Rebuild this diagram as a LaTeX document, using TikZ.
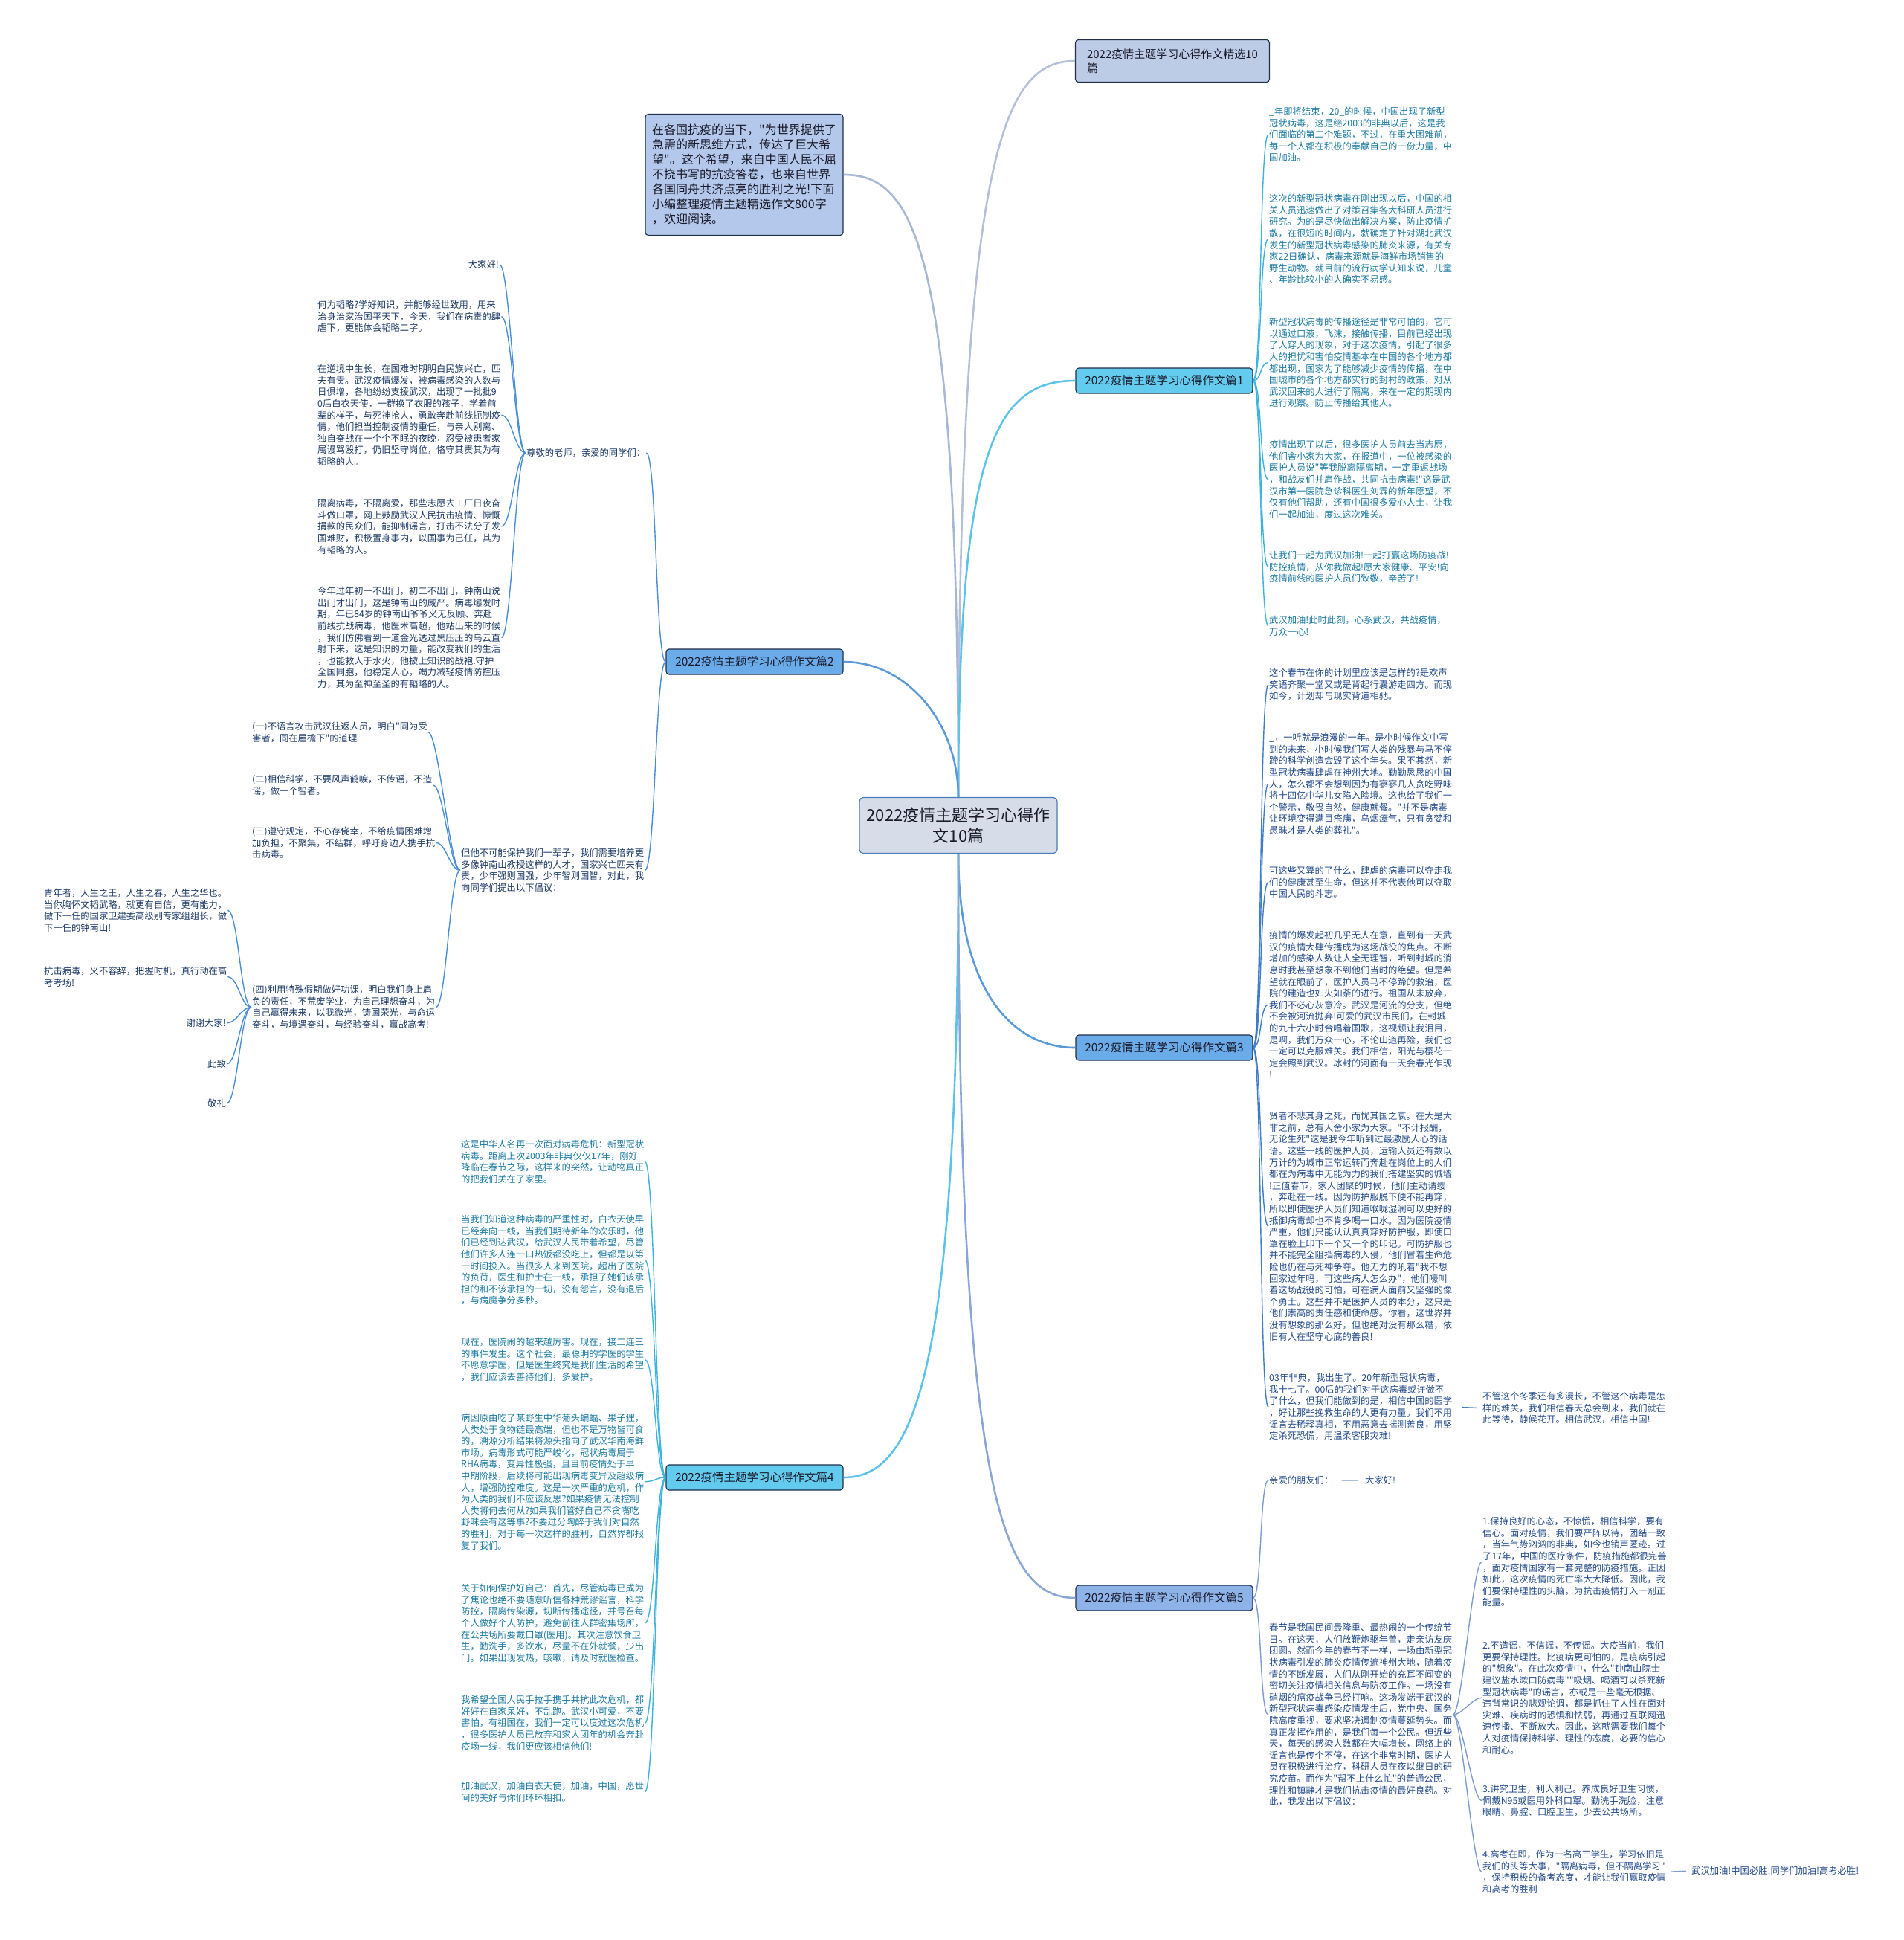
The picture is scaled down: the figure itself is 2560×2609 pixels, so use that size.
\documentclass[tikz,border=0pt]{standalone}
\usepackage{fontspec}
\setmainfont{Noto Sans CJK SC}[Ligatures=TeXOff]
\usetikzlibrary{positioning}
\definecolor{rootfill}{HTML}{D6DDE8}
\definecolor{rootline}{HTML}{4A7DC0}
\definecolor{topicline}{HTML}{1F2F4A}
\definecolor{titlefill}{HTML}{BCCBE6}
\definecolor{introfill}{HTML}{B3C8EA}
\definecolor{cyanfill}{HTML}{62CBEE}
\definecolor{bluefill}{HTML}{6AACEA}
\definecolor{lightfill}{HTML}{8DB3E8}
\definecolor{inkdark}{HTML}{1A1A2A}
\definecolor{trunkgrey}{HTML}{B4C0D8}
\definecolor{trunkintro}{HTML}{A7B7D6}
\definecolor{trunkcyan}{HTML}{5CC4E8}
\definecolor{trunkblue}{HTML}{5A9AD8}
\definecolor{trunklight}{HTML}{8AA6D6}
\definecolor{cyanline}{HTML}{3DB3DE}
\definecolor{navyline}{HTML}{4A8ED6}
\definecolor{blueline}{HTML}{3F7DC8}
\definecolor{lightline}{HTML}{7E9BD0}
\definecolor{cyantext}{HTML}{1B7AA3}
\definecolor{navytext}{HTML}{1C3A66}
\definecolor{bluetext}{HTML}{224B8A}

\begin{document}
\begin{tikzpicture}[x=1pt, y=-1pt,
  root/.style={draw=rootline, fill=rootfill, line width=1.2pt, rounded corners=5pt, minimum width=266pt, minimum height=75pt, align=center, font=\fontsize{22}{28}\selectfont, text=inkdark},
  topic/.style={draw=topicline, line width=1.1pt, rounded corners=4pt, minimum width=238pt, minimum height=34pt, font=\fontsize{15.5}{19}\selectfont, text=inkdark},
  cyantopic/.style={topic, fill=cyanfill},
  bluetopic/.style={topic, fill=bluefill},
  leaf/.style={align=left, inner sep=1pt, font=\fontsize{12.3}{15.6}\selectfont},
  rightleaf/.style={leaf, anchor=north west},
  leftleaf/.style={leaf, anchor=north west},
  trunk/.style={line width=2.6pt},
  twig/.style={line width=1.4pt}
]
  \fill[white] (0,0) rectangle (2560,2609);
  \useasboundingbox (0,0) rectangle (2560,2609);

  % centre and main topics
  \node[root] (root) at (1289,1110) {2022疫情主题学习心得作\\文10篇};
  \node[topic, fill=titlefill, minimum width=261pt, minimum height=57pt, align=left, font=\fontsize{15}{19}\selectfont] (head) at (1577,82) {2022疫情主题学习心得作文精选10\\篇};
  \node[topic, fill=introfill, minimum width=266pt, minimum height=163pt, align=left, font=\fontsize{16}{20}\selectfont] (intro) at (1001,235) {在各国抗疫的当下，"为世界提供了\\
急需的新思维方式，传达了巨大希\\
望"。这个希望，来自中国人民不屈\\
不挠书写的抗疫答卷，也来自世界\\
各国同舟共济点亮的胜利之光!下面\\
小编整理疫情主题精选作文800字\\
，欢迎阅读。};
  \node[cyantopic] (p1) at (1566,512) {2022疫情主题学习心得作文篇1};
  \node[bluetopic] (p2) at (1015,890) {2022疫情主题学习心得作文篇2};
  \node[bluetopic] (p3) at (1566,1409) {2022疫情主题学习心得作文篇3};
  \node[cyantopic] (p4) at (1015,1987) {2022疫情主题学习心得作文篇4};
  \node[topic, fill=lightfill] (p5) at (1566,2149) {2022疫情主题学习心得作文篇5};

  \draw[trunk, trunkgrey] (root.north) .. controls (1289,200) and (1350,82) .. (head.west);
  \draw[trunk, trunkintro] (root.north) .. controls (1289,330) and (1230,235) .. (intro.east);
  \draw[trunk, trunkcyan] (root.north) .. controls (1289,600) and (1340,512) .. (p1.west);
  \draw[trunk, trunkblue] (root.north) .. controls (1289,972) and (1220,890) .. (p2.east);
  \draw[trunk, trunkblue] (root.south) .. controls (1289,1330) and (1360,1409) .. (p3.west);
  \draw[trunk, trunkcyan] (root.south) .. controls (1289,1850) and (1230,1987) .. (p4.east);
  \draw[trunk, trunklight] (root.south) .. controls (1289,2020) and (1350,2149) .. (p5.west);

  % topic 1
  \node[rightleaf, text=cyantext] (b1a) at (1706,143) {\_年即将结束，20\_的时候，中国出现了新型\\
冠状病毒，这是继2003的非典以后，这是我\\
们面临的第二个难题，不过，在重大困难前，\\
每一个人都在积极的奉献自己的一份力量，中\\
国加油。};
  \node[rightleaf, text=cyantext] (b1b) at (1706,260) {这次的新型冠状病毒在刚出现以后，中国的相\\
关人员迅速做出了对策召集各大科研人员进行\\
研究。为的是尽快做出解决方案，防止疫情扩\\
散，在很短的时间内，就确定了针对湖北武汉\\
发生的新型冠状病毒感染的肺炎来源，有关专\\
家22日确认，病毒来源就是海鲜市场销售的\\
野生动物。就目前的流行病学认知来说，儿童\\
、年龄比较小的人确实不易感。};
  \node[rightleaf, text=cyantext] (b1c) at (1706,426) {新型冠状病毒的传播途径是非常可怕的，它可\\
以通过口液，飞沫，接触传播，目前已经出现\\
了人穿人的现象，对于这次疫情，引起了很多\\
人的担忧和害怕疫情基本在中国的各个地方都\\
都出现，国家为了能够减少疫情的传播，在中\\
国城市的各个地方都实行的封村的政策，对从\\
武汉回来的人进行了隔离，来在一定的期现内\\
进行观察。防止传播给其他人。};
  \node[rightleaf, text=cyantext] (b1d) at (1706,591) {疫情出现了以后，很多医护人员前去当志愿，\\
他们舍小家为大家，在报道中，一位被感染的\\
医护人员说"等我脱离隔离期，一定重返战场\\
，和战友们并肩作战，共同抗击病毒!"这是武\\
汉市第一医院急诊科医生刘霖的新年愿望，不\\
仅有他们帮助，还有中国很多爱心人士，让我\\
们一起加油，度过这次难关。};
  \node[rightleaf, text=cyantext] (b1e) at (1706,740) {让我们一起为武汉加油!一起打赢这场防疫战!\\
防控疫情，从你我做起!愿大家健康、平安!向\\
疫情前线的医护人员们致敬，辛苦了!};
  \node[rightleaf, text=cyantext] (b1f) at (1706,827) {武汉加油!此时此刻，心系武汉，共战疫情，\\
万众一心!};
  \foreach \n in {b1a,b1b,b1c,b1d,b1e,b1f}
    \draw[twig, cyanline] (p1.east) .. controls +(12,0) and +(-12,0) .. (\n.west);

  % topic 2
  \node[leaf, anchor=west, text=navytext] (g0) at (707,609) {尊敬的老师，亲爱的同学们：};
  \node[leaf, anchor=north east, text=navytext] (g1) at (672,349) {大家好!};
  \node[leftleaf, text=navytext] (g2) at (426,403) {何为韬略?学好知识，并能够经世致用，用来\\
治身治家治国平天下，今天，我们在病毒的肆\\
虐下，更能体会韬略二字。};
  \node[leftleaf, text=navytext] (g3) at (426,489) {在逆境中生长，在国难时期明白民族兴亡，匹\\
夫有责。武汉疫情爆发，被病毒感染的人数与\\
日俱增，各地纷纷支援武汉，出现了一批批9\\
0后白衣天使，一群换了衣服的孩子，学着前\\
辈的样子，与死神抢人，勇敢奔赴前线扼制疫\\
情，他们担当控制疫情的重任，与亲人别离、\\
独自奋战在一个个不眠的夜晚，忍受被患者家\\
属谩骂殴打，仍旧坚守岗位，恪守其责其为有\\
韬略的人。};
  \node[leftleaf, text=navytext] (g4) at (426,670) {隔离病毒，不隔离爱，那些志愿去工厂日夜奋\\
斗做口罩，网上鼓励武汉人民抗击疫情、慷慨\\
捐款的民众们，能抑制谣言，打击不法分子发\\
国难财，积极置身事内，以国事为己任，其为\\
有韬略的人。};
  \node[leftleaf, text=navytext] (g5) at (426,788) {今年过年初一不出门，初二不出门，钟南山说\\
出门才出门，这是钟南山的威严。病毒爆发时\\
期，年已84岁的钟南山爷爷义无反顾、奔赴\\
前线抗战病毒，他医术高超，他站出来的时候\\
，我们仿佛看到一道金光透过黑压压的乌云直\\
射下来，这是知识的力量，能改变我们的生活\\
，也能救人于水火，他披上知识的战袍.守护\\
全国同胞，他稳定人心，竭力减轻疫情防控压\\
力，其为至神至圣的有韬略的人。};
  \node[leftleaf, text=navytext] (h0) at (619,1140) {但他不可能保护我们一辈子，我们需要培养更\\
多像钟南山教授这样的人才，国家兴亡匹夫有\\
责，少年强则国强，少年智则国智，对此，我\\
向同学们提出以下倡议：};
  \node[leftleaf, text=navytext] (h1) at (338,970) {(一)不语言攻击武汉往返人员，明白"同为受\\
害者，同在屋檐下"的道理};
  \node[leftleaf, text=navytext] (h2) at (338,1041) {(二)相信科学，不要风声鹤唳，不传谣，不造\\
谣，做一个智者。};
  \node[leftleaf, text=navytext] (h3) at (338,1111) {(三)遵守规定，不心存侥幸，不给疫情困难增\\
加负担，不聚集，不结群，呼吁身边人携手抗\\
击病毒。};
  \node[leftleaf, text=navytext] (h4) at (338,1324) {(四)利用特殊假期做好功课，明白我们身上肩\\
负的责任，不荒废学业，为自己理想奋斗，为\\
自己赢得未来，以我微光，铸国荣光，与命运\\
奋斗，与境遇奋斗，与经验奋斗，赢战高考!};
  \node[leftleaf, text=navytext] (k1) at (58,1194) {青年者，人生之王，人生之春，人生之华也。\\
当你胸怀文韬武略，就更有自信，更有能力，\\
做下一任的国家卫建委高级别专家组组长，做\\
下一任的钟南山!};
  \node[leftleaf, text=navytext] (k2) at (58,1299) {抗击病毒，义不容辞，把握时机，真行动在高\\
考考场!};
  \node[leaf, anchor=north east, text=navytext] (k3) at (305,1369) {谢谢大家!};
  \node[leaf, anchor=north east, text=navytext] (k4) at (305,1424) {此致};
  \node[leaf, anchor=north east, text=navytext] (k5) at (305,1477) {敬礼};
  \foreach \n in {g0,h0}
    \draw[twig, navyline] (p2.west) .. controls +(-14,0) and +(14,0) .. (\n.east);
  \foreach \n in {g1,g2,g3,g4,g5}
    \draw[twig, navyline] (g0.west) .. controls +(-14,0) and +(14,0) .. (\n.east);
  \foreach \n in {h1,h2,h3,h4}
    \draw[twig, navyline] (h0.west) .. controls +(-14,0) and +(14,0) .. (\n.east);
  \foreach \n in {k1,k2,k3,k4,k5}
    \draw[twig, navyline] (h4.west) .. controls +(-14,0) and +(14,0) .. (\n.east);

  % topic 3
  \node[rightleaf, text=bluetext] (c1) at (1706,898) {这个春节在你的计划里应该是怎样的?是欢声\\
笑语齐聚一堂又或是背起行囊游走四方。而现\\
如今，计划却与现实背道相驰。};
  \node[rightleaf, text=bluetext] (c2) at (1706,985) {\_，一听就是浪漫的一年。是小时候作文中写\\
到的未来，小时候我们写人类的残暴与马不停\\
蹄的科学创造会毁了这个年头。果不其然，新\\
型冠状病毒肆虐在神州大地。勤勤恳恳的中国\\
人，怎么都不会想到因为有寥寥几人贪吃野味\\
将十四亿中华儿女陷入险境。这也给了我们一\\
个警示，敬畏自然，健康就餐。"并不是病毒\\
让环境变得满目疮痍，乌烟瘴气，只有贪婪和\\
愚昧才是人类的葬礼"。};
  \node[rightleaf, text=bluetext] (c3) at (1706,1164) {可这些又算的了什么，肆虐的病毒可以夺走我\\
们的健康甚至生命，但这并不代表他可以夺取\\
中国人民的斗志。};
  \node[rightleaf, text=bluetext] (c4) at (1706,1251) {疫情的爆发起初几乎无人在意，直到有一天武\\
汉的疫情大肆传播成为这场战役的焦点。不断\\
增加的感染人数让人全无理智，听到封城的消\\
息时我甚至想象不到他们当时的绝望。但是希\\
望就在眼前了，医护人员马不停蹄的救治，医\\
院的建造也如火如荼的进行。祖国从未放弃，\\
我们不必心灰意冷。武汉是河流的分支，但绝\\
不会被河流抛弃!可爱的武汉市民们，在封城\\
的九十六小时合唱着国歌，这视频让我泪目，\\
是啊，我们万众一心，不论山道再险，我们也\\
一定可以克服难关。我们相信，阳光与樱花一\\
定会照到武汉。冰封的河面有一天会春光乍现\\
!};
  \node[rightleaf, text=bluetext] (c5) at (1706,1494) {贤者不悲其身之死，而忧其国之衰。在大是大\\
非之前，总有人舍小家为大家。"不计报酬，\\
无论生死"这是我今年听到过最激励人心的话\\
语。这些一线的医护人员，运输人员还有数以\\
万计的为城市正常运转而奔赴在岗位上的人们\\
都在为病毒中无能为力的我们搭建坚实的城墙\\
!正值春节，家人团聚的时候，他们主动请缨\\
，奔赴在一线。因为防护服脱下便不能再穿，\\
所以即使医护人员们知道喉咙湿润可以更好的\\
抵御病毒却也不肯多喝一口水。因为医院疫情\\
严重，他们只能认认真真穿好防护服，即使口\\
罩在脸上印下一个又一个的印记。可防护服也\\
并不能完全阻挡病毒的入侵，他们冒着生命危\\
险也仍在与死神争夺。他无力的吼着"我不想\\
回家过年吗，可这些病人怎么办"，他们嚎叫\\
着这场战役的可怕，可在病人面前又坚强的像\\
个勇士。这些并不是医护人员的本分，这只是\\
他们崇高的责任感和使命感。你看，这世界并\\
没有想象的那么好，但也绝对没有那么糟，依\\
旧有人在坚守心底的善良!};
  \node[rightleaf, text=bluetext] (c6) at (1706,1846) {03年非典，我出生了。20年新型冠状病毒，\\
我十七了。00后的我们对于这病毒或许做不\\
了什么，但我们能做到的是，相信中国的医学\\
，好让那些挽救生命的人更有力量。我们不用\\
谣言去稀释真相，不用恶意去揣测善良，用坚\\
定杀死恐慌，用温柔客服灾难!};
  \node[rightleaf, text=bluetext] (c6x) at (1993,1871) {不管这个冬季还有多漫长，不管这个病毒是怎\\
样的难关，我们相信春天总会到来，我们就在\\
此等待，静候花开。相信武汉，相信中国!};
  \foreach \n in {c1,c2,c3,c4,c5,c6}
    \draw[twig, blueline] (p3.east) .. controls +(12,0) and +(-12,0) .. (\n.west);
  \draw[twig, blueline, shorten <=12pt, shorten >=6pt] (c6.east) -- (c6x.west);

  % topic 4
  \node[leftleaf, text=cyantext] (d1) at (619,1532) {这是中华人名再一次面对病毒危机：新型冠状\\
病毒。距离上次2003年非典仅仅17年，刚好\\
降临在春节之际，这样来的突然，让动物真正\\
的把我们关在了家里。};
  \node[leftleaf, text=cyantext] (d2) at (619,1633) {当我们知道这种病毒的严重性时，白衣天使早\\
已经奔向一线，当我们期待新年的欢乐时，他\\
们已经到达武汉，给武汉人民带着希望，尽管\\
他们许多人连一口热饭都没吃上，但都是以第\\
一时间投入。当很多人来到医院，超出了医院\\
的负荷，医生和护士在一线，承担了她们该承\\
担的和不该承担的一切，没有怨言，没有退后\\
，与病魔争分多秒。};
  \node[leftleaf, text=cyantext] (d3) at (619,1798) {现在，医院闹的越来越厉害。现在，接二连三\\
的事件发生。这个社会，最聪明的学医的学生\\
不愿意学医，但是医生终究是我们生活的希望\\
，我们应该去善待他们，多爱护。};
  \node[leftleaf, text=cyantext] (d4) at (619,1900) {病因原由吃了某野生中华菊头蝙蝠、果子狸，\\
人类处于食物链最高端，但也不是万物皆可食\\
的，溯源分析结果将源头指向了武汉华南海鲜\\
市场。病毒形式可能严峻化，冠状病毒属于\\
RHA病毒，变异性极强，且目前疫情处于早\\
中期阶段，后续将可能出现病毒变异及超级病\\
人，增强防控难度。这是一次严重的危机，作\\
为人类的我们不应该反思?如果疫情无法控制\\
人类将何去何从?如果我们管好自己不贪嘴吃\\
野味会有这等事?不要过分陶醉于我们对自然\\
的胜利，对于每一次这样的胜利，自然界都报\\
复了我们。};
  \node[leftleaf, text=cyantext] (d5) at (619,2129) {关于如何保护好自己：首先，尽管病毒已成为\\
了焦论也绝不要随意听信各种荒谬谣言，科学\\
防控，隔离传染源，切断传播途径，并号召每\\
个人做好个人防护，避免前往人群密集场所，\\
在公共场所要戴口罩(医用)。其次注意饮食卫\\
生，勤洗手，多饮水，尽量不在外就餐，少出\\
门。如果出现发热，咳嗽，请及时就医检查。};
  \node[leftleaf, text=cyantext] (d6) at (619,2279) {我希望全国人民手拉手携手共抗此次危机，都\\
好好在自家呆好，不乱跑。武汉小可爱，不要\\
害怕，有祖国在，我们一定可以度过这次危机\\
，很多医护人员已放弃和家人团年的机会奔赴\\
疫场一线，我们更应该相信他们!};
  \node[leftleaf, text=cyantext] (d7) at (619,2395) {加油武汉，加油白衣天使，加油，中国，愿世\\
间的美好与你们环环相扣。};
  \foreach \n in {d1,d2,d3,d4,d5,d6,d7}
    \draw[twig, cyanline] (p4.west) .. controls +(-14,0) and +(14,0) .. (\n.east);

  % topic 5
  \node[rightleaf, text=bluetext] (e1) at (1706,1984) {亲爱的朋友们：};
  \node[rightleaf, text=bluetext] (e1x) at (1835,1984) {大家好!};
  \node[rightleaf, text=bluetext] (e2) at (1706,2182) {春节是我国民间最隆重、最热闹的一个传统节\\
日。在这天，人们放鞭炮驱年兽，走亲访友庆\\
团圆。然而今年的春节不一样，一场由新型冠\\
状病毒引发的肺炎疫情传遍神州大地，随着疫\\
情的不断发展，人们从刚开始的充耳不闻变的\\
密切关注疫情相关信息与防疫工作。一场没有\\
硝烟的瘟疫战争已经打响。这场发端于武汉的\\
新型冠状病毒感染疫情发生后，党中央、国务\\
院高度重视，要求坚决遏制疫情蔓延势头。而\\
真正发挥作用的，是我们每一个公民。但近些\\
天，每天的感染人数都在大幅增长，网络上的\\
谣言也是传个不停，在这个非常时期，医护人\\
员在积极进行治疗，科研人员在夜以继日的研\\
究疫苗。而作为"帮不上什么忙"的普通公民，\\
理性和镇静才是我们抗击疫情的最好良药。对\\
此，我发出以下倡议：};
  \node[rightleaf, text=bluetext] (f1) at (1993,2039) {1.保持良好的心态，不惊慌，相信科学，要有\\
信心。面对疫情，我们要严阵以待，团结一致\\
，当年气势汹汹的非典，如今也销声匿迹。过\\
了17年，中国的医疗条件，防疫措施都很完善\\
，面对疫情国家有一套完整的防疫措施。正因\\
如此，这次疫情的死亡率大大降低。因此，我\\
们要保持理性的头脑，为抗击疫情打入一剂正\\
能量。};
  \node[rightleaf, text=bluetext] (f2) at (1993,2206) {2.不造谣，不信谣，不传谣。大疫当前，我们\\
更要保持理性。比疫病更可怕的，是疫病引起\\
的"想象"。在此次疫情中，什么"钟南山院士\\
建议盐水漱口防病毒""吸烟、喝酒可以杀死新\\
型冠状病毒"的谣言，亦或是一些毫无根据、\\
违背常识的悲观论调，都是抓住了人性在面对\\
灾难、疾病时的恐惧和怯弱，再通过互联网迅\\
速传播、不断放大。因此，这就需要我们每个\\
人对疫情保持科学、理性的态度，必要的信心\\
和耐心。};
  \node[rightleaf, text=bluetext] (f3) at (1993,2399) {3.讲究卫生，利人利己。养成良好卫生习惯，\\
佩戴N95或医用外科口罩。勤洗手洗脸，注意\\
眼睛、鼻腔、口腔卫生，少去公共场所。};
  \node[rightleaf, text=bluetext] (f4) at (1993,2487) {4.高考在即，作为一名高三学生，学习依旧是\\
我们的头等大事，"隔离病毒，但不隔离学习"\\
，保持积极的备考态度，才能让我们赢取疫情\\
和高考的胜利};
  \node[rightleaf, text=bluetext] (f4x) at (2274,2509) {武汉加油!中国必胜!同学们加油!高考必胜!};
  \foreach \n in {e1,e2}
    \draw[twig, lightline] (p5.east) .. controls +(12,0) and +(-12,0) .. (\n.west);
  \draw[twig, lightline, shorten <=10pt, shorten >=8pt] (e1.east) -- (e1x.west);
  \foreach \n in {f1,f2,f3,f4}
    \draw[twig, lightline] (e2.east) .. controls +(12,0) and +(-12,0) .. (\n.west);
  \draw[twig, lightline, shorten <=6pt, shorten >=6pt] (f4.east) -- (f4x.west);
\end{tikzpicture}
\end{document}
